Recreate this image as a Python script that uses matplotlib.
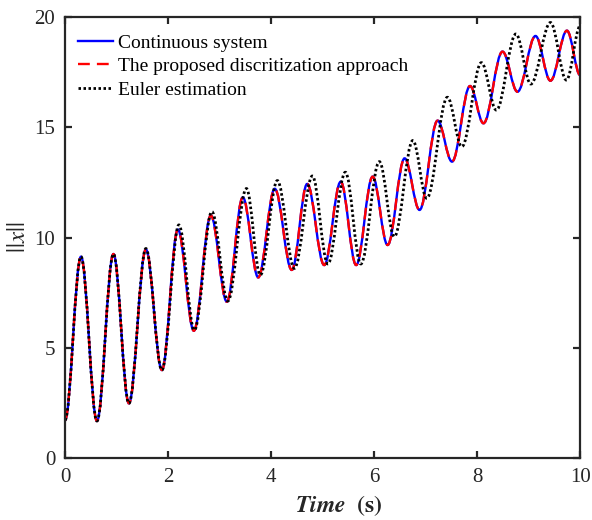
import matplotlib
matplotlib.use("Agg")
import matplotlib.pyplot as plt
from matplotlib.path import Path
from matplotlib.patches import PathPatch
from matplotlib.lines import Line2D

plt.rcParams['font.family'] = ['Liberation Serif', 'DejaVu Serif']
plt.rcParams['mathtext.fontset'] = 'stix'

# extrema (peaks / troughs), time in s
t_cont = [0.0, 0.31, 0.62, 0.94, 1.24, 1.57, 1.88, 2.19, 2.50, 2.83, 3.14,
          3.45, 3.75, 4.07, 4.40, 4.70, 5.03, 5.35, 5.65, 5.97, 6.26,
          6.59, 6.88, 7.23, 7.51, 7.86, 8.12, 8.49, 8.78, 9.13, 9.42,
          9.74, 10.0]
x_cont = [1.72, 9.13, 1.68, 9.25, 2.48, 9.46, 3.99, 10.36, 5.77, 11.0, 7.09,
          11.82, 8.19, 12.21, 8.53, 12.43, 8.75, 12.53, 8.75, 12.76, 9.66,
          13.59, 11.25, 15.3, 13.44, 16.87, 15.18, 18.43, 16.61, 19.14, 17.11,
          19.38, 17.35]

# proposed discretization follows the continuous system
t_prop = t_cont
x_prop = x_cont

t_euler = [0.0, 0.31, 0.62, 0.94, 1.24, 1.57, 1.88, 2.21, 2.51, 2.85, 3.16,
           3.52, 3.79, 4.12, 4.45, 4.80, 5.10, 5.44, 5.74, 6.10, 6.39,
           6.75, 7.02, 7.42, 7.70, 8.08, 8.37, 8.75, 9.04, 9.42, 9.73,
           10.0]
x_euler = [1.72, 9.13, 1.68, 9.25, 2.48, 9.5, 3.99, 10.57, 5.8, 11.17, 7.12,
           12.22, 8.3, 12.58, 8.6, 12.79, 8.8, 12.96, 8.8, 13.44, 10.04,
           14.4, 11.78, 16.36, 14.12, 17.93, 15.78, 19.23, 16.96, 19.75, 17.14,
           19.6]

labels = ['Continuous system', 'The proposed discritization approach',
          'Euler estimation']


def wave(t, v, k=0.364, **kw):
    # smooth half-waves between extrema as cubic Bezier segments
    verts = [(t[0], v[0])]
    codes = [Path.MOVETO]
    for i in range(len(t) - 1):
        dt = t[i + 1] - t[i]
        verts += [(t[i] + k * dt, v[i]), (t[i + 1] - k * dt, v[i + 1]),
                  (t[i + 1], v[i + 1])]
        codes += [Path.CURVE4] * 3
    return PathPatch(Path(verts, codes), fill=False, **kw)


fig = plt.figure(figsize=(5.92, 5.2), dpi=100)
ax = fig.add_axes([0.1098, 0.1192, 0.8705, 0.8481])

ax.add_patch(wave(t_cont, x_cont, edgecolor='#0000ff', lw=1.7, ls='-'))
ax.add_patch(wave(t_prop, x_prop, edgecolor='#ff0000', lw=1.7,
                  ls=(0, (5, 3)), capstyle='butt'))
ax.add_patch(wave(t_euler, x_euler, edgecolor='black', lw=2.0,
                  ls=(0, (0.9, 0.9))))

ax.set_xlim(0, 10)
ax.set_ylim(0, 20)
ax.set_xticks([0, 2, 4, 6, 8, 10])
ax.set_yticks([0, 5, 10, 15, 20])

for s in ax.spines.values():
    s.set_linewidth(1.6)
    s.set_color('#262626')
ax.tick_params(direction='in', top=True, right=True, length=5, width=1.6,
               labelsize=15, colors='#262626', pad=7)

ax.set_xlabel(r'$\mathbfit{Time}$  $\mathbf{(s)}$', fontsize=17,
              color='#262626', labelpad=5)
ax.xaxis.label.set_x(0.532)
ax.set_ylabel(r'$||x||$', fontsize=18, color='#262626', labelpad=3)

handles = [Line2D([], [], color='#0000ff', lw=1.7),
           Line2D([], [], color='#ff0000', lw=1.7, ls=(0, (5, 3))),
           Line2D([], [], color='black', lw=2.0, ls=(0, (0.9, 0.9)))]
ax.legend(handles, labels, loc='upper left', bbox_to_anchor=(0.0, 0.99),
          frameon=False, fontsize=14, handlelength=1.8, handletextpad=0.25,
          labelspacing=0.3, borderaxespad=0.35, borderpad=0.3)

fig.savefig('out.png', dpi=100)
